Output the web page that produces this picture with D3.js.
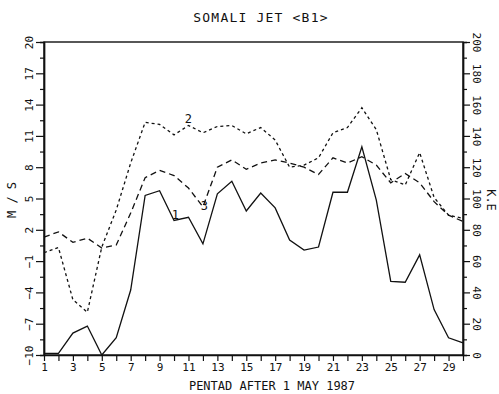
<!DOCTYPE html>
<html>
<head>
<meta charset="utf-8">
<script src="https://cdn.jsdelivr.net/npm/d3@7"></script>
<style>
  html, body { margin: 0; padding: 0; background: #fff; }
  svg { display: block; }
  text { font-family: "DejaVu Sans Mono", monospace; fill: #111; }
</style>
</head>
<body>
<script>
// Pentads after 1 May 1987
const pentads = d3.range(1, 31);
const xTickLabels = [1, 3, 5, 7, 9, 11, 13, 15, 17, 19, 21, 23, 25, 27, 29];
const leftTicks = [-10, -7, -4, -1, 2, 5, 8, 11, 14, 17, 20];
const rightTicks = [0, 20, 40, 60, 80, 100, 120, 140, 160, 180, 200];

// Curve 1: kinetic energy (right axis)
const curve1 = [1, 1, 14, 18.5, 0, 11, 41.5, 102, 105, 86, 88, 71, 103, 111, 92,
                103.5, 94, 73.5, 67, 69, 104, 104, 133, 99, 47, 46.5, 64, 29, 11, 7.7];
// Curve 2: wind speed, m/s (left axis)
const curve2 = [-0.2, 0.3, -4.7, -5.9, 0.35, 3.9, 8.4, 12.3, 12.1, 11.1, 12.0, 11.3, 11.9, 12.0, 11.2,
                11.8, 10.6, 8.0, 8.2, 8.9, 11.3, 11.8, 13.7, 11.6, 6.8, 6.3, 9.4, 5.1, 3.4, 3.1];
// Curve 3: wind speed, m/s (left axis)
const curve3 = [1.3, 1.8, 0.8, 1.2, 0.26, 0.54, 3.6, 7.0, 7.7, 7.2, 6.0, 4.2, 8.0, 8.7, 7.8,
                8.4, 8.7, 8.4, 8.0, 7.3, 8.9, 8.4, 9.0, 8.2, 6.5, 7.4, 6.5, 4.7, 3.4, 2.8];

const W = 499, H = 394;
const L = 44, R = 463, T = 42, B = 355;

const svg = d3.select("body").append("svg").attr("width", W).attr("height", H);

const x = d3.scaleLinear().domain([1, 30]).range([L, R]);
const yL = d3.scaleLinear().domain([-10, 20]).range([B, T]);
const yR = d3.scaleLinear().domain([0, 200]).range([B, T]);

// frame
svg.append("rect").attr("x", L).attr("y", T).attr("width", R - L).attr("height", B - T)
  .attr("fill", "none").attr("stroke", "#111").attr("stroke-width", 1.4);

function styleAxis(g) {
  g.select(".domain").attr("stroke", "#111").attr("stroke-width", 1.4);
  g.selectAll(".tick line").attr("stroke", "#111").attr("stroke-width", 1.2);
  g.selectAll("text").attr("font-size", 11).attr("font-family", "DejaVu Sans Mono");
}

// bottom axis: a tick per pentad, labels on odd pentads
const gx = svg.append("g").attr("transform", `translate(0,${B})`)
  .call(d3.axisBottom(x).tickValues(pentads).tickSize(6).tickSizeOuter(0)
    .tickFormat(d => xTickLabels.includes(d) ? d : ""));
styleAxis(gx);
gx.selectAll("text").attr("y", 8).attr("dy", "0.71em");

// left axis: minor ticks every 1.5, labelled ticks every 3
svg.append("g").attr("transform", `translate(${L},0)`)
  .call(d3.axisLeft(yL).tickValues(d3.range(-8.5, 20, 3)).tickSize(4).tickFormat(""))
  .call(styleAxis);
const gl = svg.append("g").attr("transform", `translate(${L},0)`)
  .call(d3.axisLeft(yL).tickValues(leftTicks).tickSize(8).tickSizeOuter(0));
styleAxis(gl);
gl.selectAll("text").attr("x", 0).attr("dy", 0).attr("text-anchor", "middle")
  .attr("transform", "translate(-11,0) rotate(-90)");

// right axis: minor ticks every 10, labelled every 20
svg.append("g").attr("transform", `translate(${R},0)`)
  .call(d3.axisRight(yR).tickValues(d3.range(10, 200, 20)).tickSize(4).tickFormat(""))
  .call(styleAxis);
const gr = svg.append("g").attr("transform", `translate(${R},0)`)
  .call(d3.axisRight(yR).tickValues(rightTicks).tickSize(7).tickSizeOuter(0));
styleAxis(gr);
gr.selectAll("text").attr("x", 0).attr("dy", 0).attr("text-anchor", "middle")
  .attr("transform", "translate(10,0) rotate(90)");

// curves
const lineL = d3.line().x((d, i) => x(pentads[i])).y(d => yL(d));
const lineR = d3.line().x((d, i) => x(pentads[i])).y(d => yR(d));

svg.append("path").datum(curve1).attr("d", lineR)
  .attr("fill", "none").attr("stroke", "#111").attr("stroke-width", 1.3);
svg.append("path").datum(curve2).attr("d", lineL)
  .attr("fill", "none").attr("stroke", "#111").attr("stroke-width", 1.3)
  .attr("stroke-dasharray", "3,3");
svg.append("path").datum(curve3).attr("d", lineL)
  .attr("fill", "none").attr("stroke", "#111").attr("stroke-width", 1.3)
  .attr("stroke-dasharray", "6,4");

// curve numbers
const curveTags = [
  { t: "1", p: 10.1, v: yR(89.5) },
  { t: "2", p: 11.0, v: yL(12.6) },
  { t: "3", p: 12.1, v: yL(4.3) }
];
svg.selectAll("text.tag").data(curveTags).join("text").attr("class", "tag")
  .attr("x", d => x(d.p)).attr("y", d => d.v).attr("dy", "0.35em")
  .attr("text-anchor", "middle").attr("font-size", 12).text(d => d.t);

// titles
svg.append("text").attr("x", 261).attr("y", 17).attr("dy", "0.35em")
  .attr("text-anchor", "middle").attr("font-size", 13).attr("letter-spacing", 1.2)
  .text("SOMALI JET <B1>");
svg.append("text").attr("x", 272).attr("y", 386).attr("dy", "0.35em")
  .attr("text-anchor", "middle").attr("font-size", 12)
  .text("PENTAD AFTER 1 MAY 1987");
svg.append("text").attr("transform", "translate(12,200) rotate(-90)").attr("dy", "0.35em")
  .attr("text-anchor", "middle").attr("font-size", 12).text("M / S");
svg.append("text").attr("transform", "translate(491,200) rotate(90)").attr("dy", "0.35em")
  .attr("text-anchor", "middle").attr("font-size", 12).text("K.E");
</script>
</body>
</html>
